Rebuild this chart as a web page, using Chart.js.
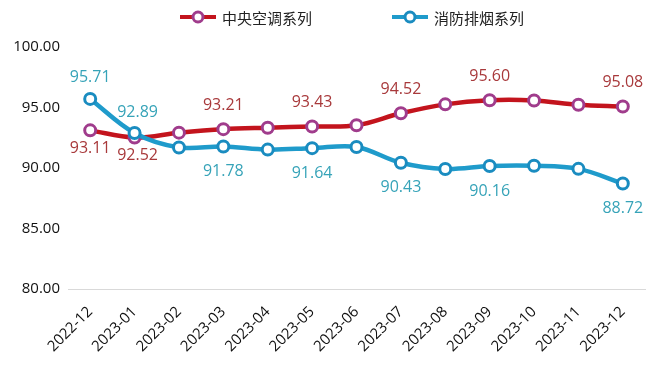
<!DOCTYPE html>
<html>
<head>
<meta charset="utf-8">
<script src="https://cdn.jsdelivr.net/npm/chart.js@4/dist/chart.umd.min.js"></script>
<style>
  html, body { margin: 0; background: #fff; }
  #wrap { width: 660px; height: 368px; }
</style>
</head>
<body>
<div id="wrap"><canvas id="lineChart"></canvas></div>
<script>
const months = ['2022-12', '2023-01', '2023-02', '2023-03', '2023-04', '2023-05', '2023-06',
                '2023-07', '2023-08', '2023-09', '2023-10', '2023-11', '2023-12'];
const acValues   = [93.11, 92.52, 92.92, 93.21, 93.33, 93.43, 93.53, 94.52, 95.26, 95.60, 95.58, 95.23, 95.08];
const fireValues = [95.71, 92.89, 91.70, 91.78, 91.52, 91.64, 91.74, 90.43, 89.92, 90.16, 90.18, 89.93, 88.72];
const yTicks = [80, 85, 90, 95, 100];

// which points carry a value label, and whether it sits under the point
const acLabelAt    = [0, 1, 3, 5, 7, 9, 12];
const acLabelBelow = [true, true, false, false, false, false, false];
const fireLabelAt    = [0, 1, 3, 5, 7, 9, 12];
const fireLabelBelow = [false, false, true, true, true, true, true];

const RED = '#c3141d', RED_PT = '#a03c8c', RED_TXT = '#a8393b';
const BLUE = '#1f9bcb', BLUE_PT = '#1a8cc0', BLUE_TXT = '#36a3b8';
const NUM_FONT = '"Open Sans", "Noto Sans", sans-serif';
const CJK_FONT = '"Noto Sans CJK SC", sans-serif';

// value labels drawn next to selected points
const valueLabels = {
  id: 'valueLabels',
  afterDatasetsDraw(chart) {
    const ctx = chart.ctx;
    const sets = [
      { at: acLabelAt, below: acLabelBelow, color: RED_TXT, up: 24, down: 18 },
      { at: fireLabelAt, below: fireLabelBelow, color: BLUE_TXT, up: 21, down: 25 }
    ];
    ctx.save();
    ctx.font = '16px ' + NUM_FONT;
    ctx.textAlign = 'center';
    ctx.textBaseline = 'middle';
    sets.forEach((s, i) => {
      const meta = chart.getDatasetMeta(i);
      const values = chart.data.datasets[i].data;
      ctx.fillStyle = s.color;
      s.at.forEach((idx, k) => {
        const pt = meta.data[idx];
        const y = s.below[k] ? pt.y + s.down : pt.y - s.up;
        ctx.fillText(values[idx].toFixed(2), pt.x + (idx === 1 ? 3 : 0), y);
      });
    });
    ctx.restore();
  }
};

// legend with line + ring marker, as in the original
const topLegend = {
  id: 'topLegend',
  afterDraw(chart) {
    const ctx = chart.ctx;
    const items = [
      { x: 180, color: RED, ring: RED_PT, text: chart.data.datasets[0].label },
      { x: 392, color: BLUE, ring: BLUE_PT, text: chart.data.datasets[1].label }
    ];
    const y = 17;
    ctx.save();
    items.forEach(it => {
      ctx.strokeStyle = it.color;
      ctx.lineWidth = 4;
      ctx.beginPath();
      ctx.moveTo(it.x, y);
      ctx.lineTo(it.x + 36, y);
      ctx.stroke();
      ctx.beginPath();
      ctx.arc(it.x + 18, y, 5, 0, Math.PI * 2);
      ctx.fillStyle = '#fff';
      ctx.fill();
      ctx.lineWidth = 3;
      ctx.strokeStyle = it.ring;
      ctx.stroke();
      ctx.fillStyle = '#222';
      ctx.font = '15px ' + CJK_FONT;
      ctx.textAlign = 'left';
      ctx.textBaseline = 'middle';
      ctx.fillText(it.text, it.x + 42, y + 1);
    });
    ctx.restore();
  }
};

const ctx = document.getElementById('lineChart').getContext('2d');
new Chart(ctx, {
  type: 'line',
  data: {
    labels: months,
    datasets: [
      {
        label: '中央空调系列',
        data: acValues,
        order: 1,
        borderColor: RED,
        borderWidth: 4.5,
        pointRadius: 5.5,
        pointBorderWidth: 3,
        pointBorderColor: RED_PT,
        pointBackgroundColor: '#fff',
        tension: 0.35
      },
      {
        label: '消防排烟系列',
        data: fireValues,
        order: 0,
        borderColor: BLUE,
        borderWidth: 4.5,
        pointRadius: 5.5,
        pointBorderWidth: 3,
        pointBorderColor: BLUE_PT,
        pointBackgroundColor: '#fff',
        tension: 0.35
      }
    ]
  },
  options: {
    responsive: true,
    maintainAspectRatio: false,
    animation: false,
    layout: { padding: { top: 47, right: 15, left: 0, bottom: 0 } },
    plugins: {
      legend: { display: false },
      tooltip: { enabled: false }
    },
    scales: {
      x: {
        offset: true,
        grid: { display: false, drawTicks: false },
        border: { display: true, color: '#d9d9d9', width: 1 },
        ticks: {
          color: '#111',
          font: { size: 15, family: NUM_FONT },
          minRotation: 45,
          maxRotation: 45,
          padding: 14,
          autoSkip: false
        },
        afterFit: s => { s.height = 79; }
      },
      y: {
        min: 80,
        max: 100,
        grid: { display: false, drawTicks: false },
        border: { display: false },
        afterBuildTicks: s => { s.ticks = yTicks.map(v => ({ value: v })); },
        ticks: {
          color: '#111',
          font: { size: 15, family: NUM_FONT },
          padding: 8,
          callback: v => v.toFixed(2)
        },
        afterFit: s => { s.width = 68; }
      }
    }
  },
  plugins: [valueLabels, topLegend]
});
</script>
</body>
</html>
